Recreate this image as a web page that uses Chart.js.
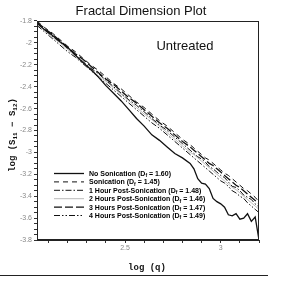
<!DOCTYPE html>
<html>
<head>
<meta charset="utf-8">
<script src="https://cdn.jsdelivr.net/npm/chart.js@4"></script>
<style>
  html, body { margin: 0; padding: 0; background: #fff; }
  #wrap { width: 305px; height: 283px; }
</style>
</head>
<body>
<div id="wrap"><canvas id="fd"></canvas></div>
<script>
// log(q) values shared by all series
const logQ = [2.04, 2.08, 2.12, 2.16, 2.20, 2.24, 2.28, 2.32, 2.36, 2.40, 2.44, 2.48, 2.52, 2.56, 2.60, 2.64, 2.68, 2.72, 2.76, 2.80, 2.84,
  2.86, 2.88, 2.90, 2.92, 2.94, 2.96, 2.98, 3.00, 3.02, 3.04, 3.06, 3.08, 3.10, 3.12, 3.14, 3.16, 3.18, 3.20]

const noSonication = [-1.82, -1.88, -1.93, -1.99, -2.04, -2.11, -2.18, -2.24, -2.31, -2.39, -2.46, -2.53, -2.61, -2.69, -2.76, -2.84, -2.89, -2.95, -3.01, -3.05, -3.10,
  -3.15, -3.24, -3.28, -3.29, -3.33, -3.42, -3.45, -3.47, -3.50, -3.57, -3.58, -3.56, -3.61, -3.60, -3.56, -3.63, -3.59, -3.80]
const sonication = [-1.80, -1.86, -1.91, -1.97, -2.03, -2.08, -2.14, -2.20, -2.25, -2.31, -2.37, -2.42, -2.48, -2.54, -2.59, -2.65, -2.71, -2.76, -2.82, -2.88, -2.93,
  -2.96, -2.99, -3.02, -3.05, -3.07, -3.10, -3.13, -3.16, -3.19, -3.21, -3.24, -3.27, -3.30, -3.33, -3.35, -3.38, -3.41, -3.45]
const post1h = [-1.82, -1.88, -1.94, -1.99, -2.05, -2.11, -2.17, -2.23, -2.28, -2.34, -2.40, -2.46, -2.52, -2.57, -2.63, -2.69, -2.75, -2.80, -2.86, -2.92, -2.98,
  -3.01, -3.04, -3.06, -3.09, -3.13, -3.15, -3.18, -3.21, -3.23, -3.27, -3.31, -3.32, -3.35, -3.39, -3.41, -3.43, -3.47, -3.50]
const post2h = [-1.83, -1.89, -1.95, -2.00, -2.06, -2.12, -2.18, -2.24, -2.30, -2.35, -2.41, -2.47, -2.53, -2.59, -2.65, -2.70, -2.76, -2.82, -2.88, -2.94, -3.00,
  -3.02, -3.05, -3.08, -3.11, -3.14, -3.17, -3.20, -3.23, -3.26, -3.29, -3.32, -3.34, -3.37, -3.40, -3.43, -3.46, -3.49, -3.52]
const post3h = [-1.81, -1.87, -1.92, -1.98, -2.04, -2.10, -2.15, -2.21, -2.27, -2.33, -2.38, -2.44, -2.50, -2.55, -2.61, -2.67, -2.73, -2.78, -2.84, -2.90, -2.95,
  -2.98, -3.01, -3.04, -3.07, -3.10, -3.12, -3.15, -3.18, -3.21, -3.24, -3.27, -3.30, -3.32, -3.35, -3.38, -3.41, -3.44, -3.47]
const post4h = [-1.84, -1.90, -1.96, -2.02, -2.08, -2.13, -2.19, -2.25, -2.31, -2.37, -2.43, -2.49, -2.55, -2.61, -2.67, -2.73, -2.78, -2.84, -2.90, -2.96, -3.02,
  -3.05, -3.08, -3.11, -3.14, -3.17, -3.20, -3.23, -3.26, -3.28, -3.31, -3.35, -3.37, -3.40, -3.42, -3.46, -3.49, -3.52, -3.55]

const seriesNames = ['No Sonication', 'Sonication', '1 Hour Post-Sonication', '2 Hours Post-Sonication', '3 Hours Post-Sonication', '4 Hours Post-Sonication']
const dfValues = ['1.60', '1.45', '1.48', '1.46', '1.47', '1.49']
const xTickValues = [2.1, 2.2, 2.3, 2.4, 2.5, 2.6, 2.7, 2.8, 2.9, 3.0, 3.1, 3.2]
const xTickLabels = [2.5, 3]
const yTickLabels = [-1.8, -2, -2.2, -2.4, -2.6, -2.8, -3, -3.2, -3.4, -3.6, -3.8]

const allSeries = [noSonication, sonication, post1h, post2h, post3h, post4h]
const styles = [
  {color: '#111', width: 1.3, dash: []},
  {color: '#111', width: 1, dash: [5, 4]},
  {color: '#111', width: 1, dash: [6, 2, 1.5, 2]},
  {color: '#bbb', width: 1, dash: []},
  {color: '#111', width: 1.3, dash: [8, 3]},
  {color: '#111', width: 1, dash: [6, 2, 1.5, 2, 1.5, 2]}
]

function toPoints(arr){
  return arr.map((y, i) => ({x: logQ[i], y: y}))
}

let datasets = allSeries.map((s, i) => ({
  label: seriesNames[i],
  data: toPoints(s),
  borderColor: styles[i].color,
  borderWidth: styles[i].width,
  borderDash: styles[i].dash,
  pointRadius: 0,
  tension: 0,
  fill: false
}))

// texts, frame and legend drawn on top
const extras = {
  id: 'extras',
  afterDatasetsDraw(chart){
    const ctx = chart.ctx
    const ca = chart.chartArea
    ctx.save()
    ctx.setLineDash([])
    ctx.strokeStyle = '#222'
    ctx.lineWidth = 1
    ctx.strokeRect(ca.left + 0.5, ca.top + 0.5, ca.right - ca.left - 1, ca.bottom - ca.top - 1)

    // title
    ctx.fillStyle = '#111'
    ctx.font = '13px "Liberation Sans", Arial, sans-serif'
    ctx.textAlign = 'center'
    ctx.textBaseline = 'alphabetic'
    ctx.fillText('Fractal Dimension Plot', 141, 15)

    // Untreated
    ctx.fillText('Untreated', 185, 50)

    // x title
    ctx.font = 'bold 9px "Liberation Mono", "DejaVu Sans Mono", monospace'
    ctx.fillText('log (q)', 147, 270)

    // bottom rule
    ctx.beginPath()
    ctx.moveTo(0, 275.5)
    ctx.lineTo(268, 275.5)
    ctx.strokeStyle = '#222'
    ctx.stroke()

    // y title, rotated, with subscripts
    ctx.save()
    ctx.translate(15, 135)
    ctx.rotate(-Math.PI / 2)
    const parts = [['log (S', 9, 0], ['11', 6, 2], [' \u2212 S', 9, 0], ['12', 6, 2], [')', 9, 0]]
    let total = 0
    parts.forEach(p => { ctx.font = 'bold ' + p[1] + 'px "Liberation Mono", monospace'; total += ctx.measureText(p[0]).width })
    let px = -total / 2
    ctx.textAlign = 'left'
    parts.forEach(p => {
      ctx.font = 'bold ' + p[1] + 'px "Liberation Mono", monospace'
      ctx.fillText(p[0], px, p[2])
      px += ctx.measureText(p[0]).width
    })
    ctx.restore()

    // legend
    const lx0 = ca.left + 17, lx1 = ca.left + 47, tx = ca.left + 52
    let ly = ca.top + 152
    chart.data.datasets.forEach((ds, i) => {
      ctx.beginPath()
      ctx.setLineDash(ds.borderDash)
      ctx.strokeStyle = ds.borderColor
      ctx.lineWidth = ds.borderWidth
      ctx.moveTo(lx0, ly + 0.5)
      ctx.lineTo(lx1, ly + 0.5)
      ctx.stroke()
      ctx.setLineDash([])
      ctx.fillStyle = '#000'
      ctx.textAlign = 'left'
      ctx.textBaseline = 'middle'
      let x = tx
      ctx.font = 'bold 7px "Liberation Sans", Arial, sans-serif'
      let t1 = seriesNames[i] + ' (D'
      ctx.fillText(t1, x, ly + 1)
      x += ctx.measureText(t1).width
      ctx.font = 'bold 5px "Liberation Sans", Arial, sans-serif'
      ctx.fillText('f', x, ly + 3)
      x += ctx.measureText('f').width
      ctx.font = 'bold 7px "Liberation Sans", Arial, sans-serif'
      ctx.fillText(' = ' + dfValues[i] + ')', x, ly + 1)
      ly += 8.4
    })
    ctx.restore()
  }
}

new Chart(document.getElementById('fd'), {
  type: 'line',
  data: {datasets: datasets},
  options: {
    responsive: true,
    maintainAspectRatio: false,
    animation: false,
    layout: {padding: {top: 21, right: 46, left: 0, bottom: 0}},
    plugins: {
      legend: {display: false},
      title: {display: false},
      tooltip: {enabled: false}
    },
    scales: {
      x: {
        type: 'linear',
        min: 2.04,
        max: 3.2,
        afterBuildTicks: s => { s.ticks = xTickValues.map(v => ({value: v})) },
        afterFit: s => { s.height = 43 },
        ticks: {
          autoSkip: false,
          maxRotation: 0,
          padding: 1,
          color: '#888',
          font: {size: 7, family: 'Liberation Sans'},
          callback: v => xTickLabels.some(t => Math.abs(t - v) < 1e-6) ? String(Math.round(v * 10) / 10) : ''
        },
        grid: {drawOnChartArea: false, tickLength: 3, color: '#333'},
        border: {color: '#222'}
      },
      y: {
        min: -3.8,
        max: -1.8,
        afterBuildTicks: s => {
          let t = []
          for (let k = 0; k <= 40; k++) t.push({value: -3.8 + k * 0.05})
          s.ticks = t
        },
        afterFit: s => { s.width = 37 },
        ticks: {
          autoSkip: false,
          padding: 2,
          color: '#888',
          font: {size: 7, family: 'Liberation Sans'},
          callback: v => {
            let hit = yTickLabels.find(t => Math.abs(t - v) < 1e-6)
            return hit !== undefined ? String(hit) : ''
          }
        },
        grid: {drawOnChartArea: false, tickLength: 3, color: '#333'},
        border: {color: '#222'}
      }
    }
  },
  plugins: [extras]
})
</script>
</body>
</html>
